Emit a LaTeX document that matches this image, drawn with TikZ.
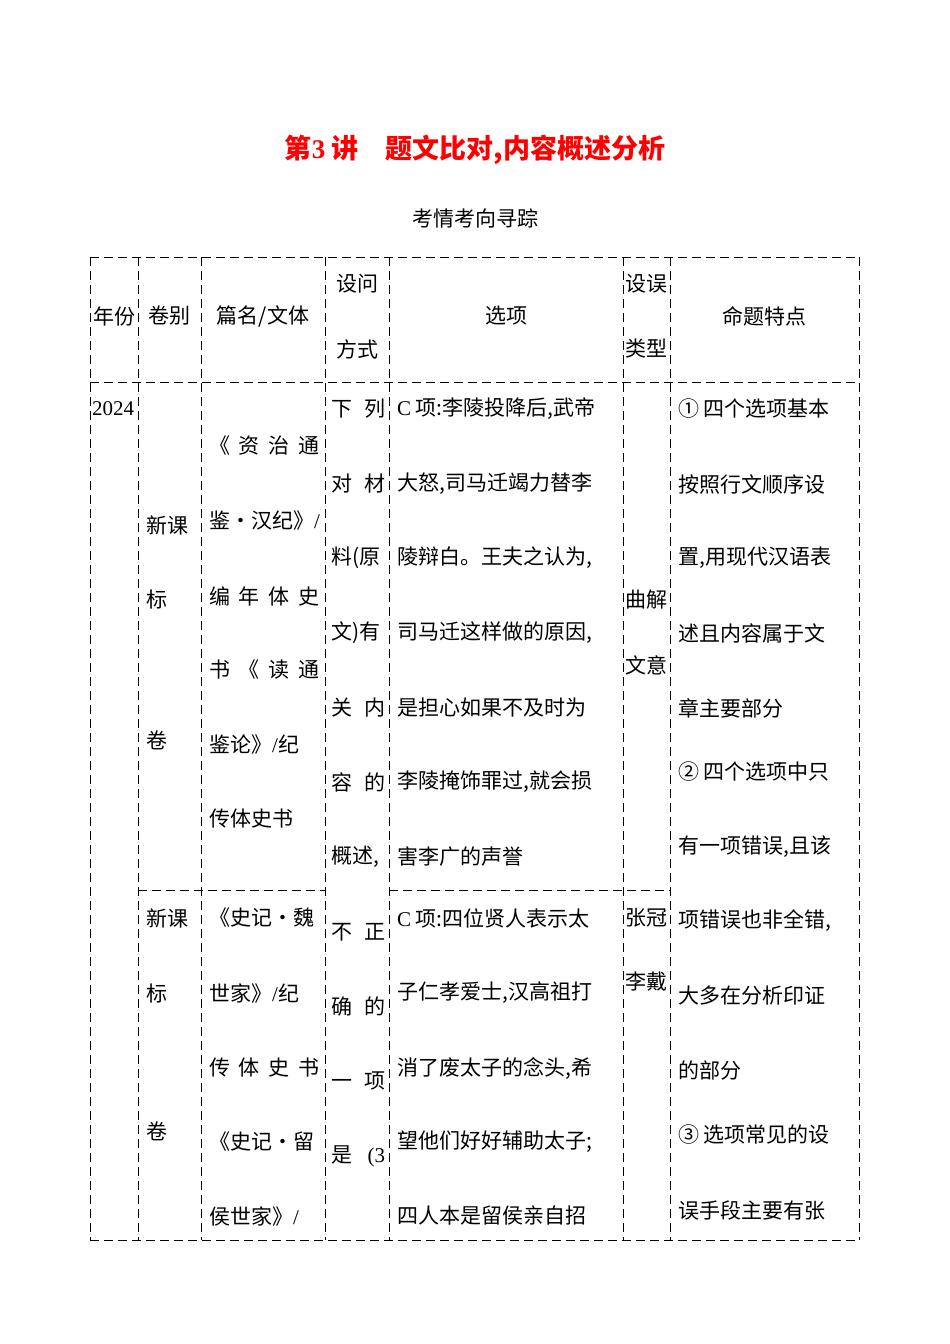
\documentclass[tikz,border=0pt]{standalone}
\usepackage{fontspec}
\setmainfont{Noto Sans CJK SC}
\newfontfamily\serifl{Liberation Serif}
\newcommand{\spr}[2]{\makebox[#1pt][s]{#2}}
\begin{document}
\begin{tikzpicture}[x=1pt,y=-1pt,
  grid/.style={dashed,dash pattern=on 9pt off 5pt,line width=0.9pt},
  tx/.style={anchor=west,inner sep=0pt,font=\fontsize{21}{21}\selectfont},
  tc/.style={anchor=center,inner sep=0pt,font=\fontsize{21}{21}\selectfont}]
\useasboundingbox (0,0) rectangle (950,1344);
\node[tc,font=\fontsize{27}{27}\selectfont\bfseries,text=red] (title) at (475,150) {第{\serifl 3} 讲\quad 题文比对,内容概述分析};
\node[tc] (sub) at (475,218) {考情考向寻踪};
% grid
\draw[grid] (90,257) -- (859,257) (90,382) -- (859,382) (90,1240) -- (859,1240);
\draw[grid] (138,890) -- (325,890) (389,890) -- (670,890);
\foreach \x in {90,138,201,325,389,623,670,859} \draw[grid] (\x,257) -- (\x,1240);
% header
\node[tc] (h1) at (114,316) {年份};
\node[tc] (h2) at (169,316) {卷别};
\node[tc] (h3) at (263,316) {篇名/文体};
\node[tc] (h4a) at (357,284) {设问};
\node[tc] (h4b) at (357,349) {方式};
\node[tc] (h5) at (506,316) {选项};
\node[tc] (h6a) at (646,284) {设误};
\node[tc] (h6b) at (646,349) {类型};
\node[tc] (h7) at (764,316) {命题特点};
% col1
\node[tx] (y) at (92,409) {\serifl 2024};
% col2
\foreach \t/\y in {{新课}/525,{标}/600,{\serifl Ⅰ}/665,{卷}/740,{新课}/918,{标}/993,{\serifl Ⅱ}/1057,{卷}/1131}
  \node[tx] at (146,\y) {\t};
% col3
\foreach \t/\y in {{\spr{110}{《\hfill 资\hfill 治\hfill 通}}/446,{鉴·汉纪》{\serifl /}}/521,{\spr{110}{编\hfill 年\hfill 体\hfill 史}}/596,{\spr{110}{书\hfill 《\hfill 读\hfill 通}}/670,{\spr{110}{鉴论》{\serifl /}纪}}/745,{传体史书}/819,{\spr{110}{《史记·魏}}/918,{\spr{110}{世家》{\serifl /}纪}}/993,{\spr{110}{传\hfill 体\hfill 史\hfill 书}}/1068,{\spr{110}{《史记·留}}/1142,{\spr{110}{侯世家》{\serifl /}}}/1216}
  \node[tx] at (209,\y) {\t};
% col4
\foreach \t/\y in {{下\hfill 列}/409,{对\hfill 材}/484,{料(原}/558,{文)有}/633,{关\hfill 内}/708,{容\hfill 的}/782,{概述,}/857,{不\hfill 正}/932,{确\hfill 的}/1006,{一\hfill 项}/1081,{是\hfill {\serifl (3}}/1156}
  \node[tx] at (331,\y) {\spr{54}{\t}};
% col5
\foreach \t/\y in {{{\serifl C} 项:李陵投降后,武帝}/409,{大怒,司马迁竭力替李}/484,{陵辩白。王夫之认为,}/558,{司马迁这样做的原因,}/633,{是担心如果不及时为}/708,{李陵掩饰罪过,就会损}/782,{害李广的声誉}/857,{{\serifl C} 项:四位贤人表示太}/918,{子仁孝爱士,汉高祖打}/993,{消了废太子的念头,希}/1068,{望他们好好辅助太子;}/1142,{四人本是留侯亲自招}/1216}
  \node[tx] at (397,\y) {\t};
% col6
\foreach \t/\y in {{曲解}/600,{文意}/665,{张冠}/918,{李戴}/982}
  \node[tx] at (625,\y) {\t};
% col7
\foreach \t/\y in {{① 四个选项基本}/409,{按照行文顺序设}/484,{置,用现代汉语表}/558,{述且内容属于文}/633,{章主要部分}/708,{② 四个选项中只}/772,{有一项错误,且该}/847,{项错误也非全错,}/921,{大多在分析印证}/996,{的部分}/1070,{③ 选项常见的设}/1135,{误手段主要有张}/1210}
  \node[tx] at (678,\y) {\t};
\end{tikzpicture}
\end{document}
